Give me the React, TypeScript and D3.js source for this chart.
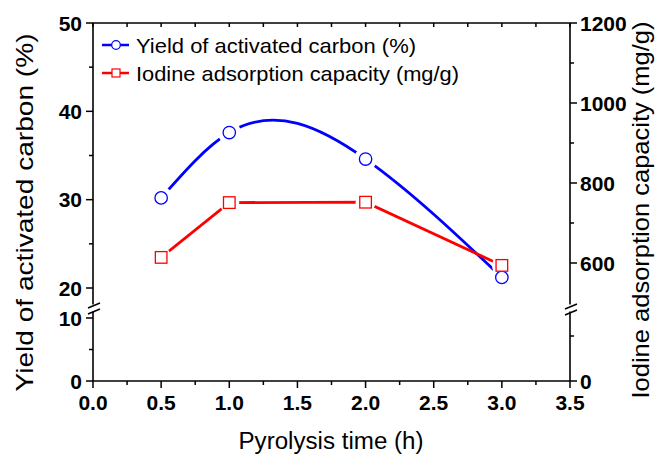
import React from 'react';
import * as d3 from 'd3';

const time = [0.5, 1.0, 2.0, 3.0];
const yieldPct = [30.2, 37.6, 34.6, 21.2];
const iodine = [614, 751, 752, 594];

const xTicks = [0, 0.5, 1, 1.5, 2, 2.5, 3, 3.5];
const leftUpperTicks = [20, 30, 40, 50];
const leftLowerTicks = [0, 10];
const rightUpperTicks = [600, 800, 1000, 1200];
const rightLowerTicks = [0];
const rightLowerMinor = [100];

const legendLabels = ['Yield of activated carbon (%)', 'Iodine adsorption capacity (mg/g)'];
const xTitle = 'Pyrolysis time (h)';
const yLeftTitle = 'Yield of activated carbon (%)';
const yRightTitle = 'Iodine adsorption capacity (mg/g)';

const FONT = "'Liberation Sans', Arial, Helvetica, sans-serif";
const BLUE = '#0000ff';
const RED = '#ff0000';

// natural cubic spline as a function of x (Origin-style "Spline" connection)
function curveNaturalX(context: any) {
  let xs: number[] = [];
  let ys: number[] = [];
  return {
    areaStart() {},
    areaEnd() {},
    lineStart() { xs = []; ys = []; },
    point(x: number, y: number) { xs.push(+x); ys.push(+y); },
    lineEnd() {
      const n = xs.length;
      if (!n) return;
      context.moveTo(xs[0], ys[0]);
      if (n === 2) { context.lineTo(xs[1], ys[1]); return; }
      const h: number[] = [];
      for (let i = 0; i < n - 1; i++) h[i] = xs[i + 1] - xs[i];
      const a: number[] = [], b: number[] = [], c: number[] = [], r: number[] = [];
      for (let i = 1; i < n - 1; i++) {
        a.push(h[i - 1]);
        b.push(2 * (h[i - 1] + h[i]));
        c.push(h[i]);
        r.push(6 * ((ys[i + 1] - ys[i]) / h[i] - (ys[i] - ys[i - 1]) / h[i - 1]));
      }
      const m = a.length;
      for (let i = 1; i < m; i++) {
        const w = a[i] / b[i - 1];
        b[i] -= w * c[i - 1];
        r[i] -= w * r[i - 1];
      }
      const sol = new Array(m).fill(0);
      sol[m - 1] = r[m - 1] / b[m - 1];
      for (let i = m - 2; i >= 0; i--) sol[i] = (r[i] - c[i] * sol[i + 1]) / b[i];
      const M = new Array(n).fill(0);
      for (let i = 0; i < m; i++) M[i + 1] = sol[i];
      for (let i = 0; i < n - 1; i++) {
        const hi = h[i];
        const s = (ys[i + 1] - ys[i]) / hi;
        const d0 = s - (hi * (2 * M[i] + M[i + 1])) / 6;
        const d1 = s + (hi * (M[i] + 2 * M[i + 1])) / 6;
        context.bezierCurveTo(
          xs[i] + hi / 3, ys[i] + (d0 * hi) / 3,
          xs[i + 1] - hi / 3, ys[i + 1] - (d1 * hi) / 3,
          xs[i + 1], ys[i + 1]
        );
      }
    },
  };
}

export default function App() {
  const W = 660, H = 456;
  const x = d3.scaleLinear().domain([0, 3.5]).range([93, 570]);
  const yLU = d3.scaleLinear().domain([20, 50]).range([288, 23]);
  const yLL = d3.scaleLinear().domain([0, 10]).range([381, 318]);
  const yRU = d3.scaleLinear().domain([600, 1200]).range([263, 23]);
  const yRL = d3.scaleLinear().domain([0, 140]).range([381, 318]);

  const x0 = x(0), x1 = x(3.5);
  const yTop = 23, yBot = 381;
  const breakTop = 304.5, breakBot = 311.5;

  const xMinor = d3.range(0, 3.5001, 0.25);
  const mids = (arr: number[]) => arr.slice(0, -1).map((v, i) => (v + arr[i + 1]) / 2);

  const blueLine = d3.line<number>().x((_, i) => x(time[i])).y(d => yLU(d)).curve(curveNaturalX as any);
  const redLine = d3.line<number>().x((_, i) => x(time[i])).y(d => yRU(d));

  const axisStroke = { stroke: '#000', strokeWidth: 1.6, fill: 'none' } as const;
  const tickFont = { fontFamily: FONT, fontWeight: 'bold' as const, fontSize: 21, fill: '#000' };

  const breakMarks = (ax: number, dy: number) => (
    <g>
      <line x1={ax - 5} y1={breakTop + 3.5 + dy} x2={ax + 7} y2={breakTop - 1.5 + dy} stroke="#000" strokeWidth={1.5} />
      <line x1={ax - 5} y1={breakBot + 2.5 + dy} x2={ax + 7} y2={breakBot - 2.5 + dy} stroke="#000" strokeWidth={1.5} />
    </g>
  );

  return (
    <svg width={W} height={H} style={{ position: 'absolute', left: 0, top: 0, display: 'block', background: '#fff' }}>
      <rect x={0} y={0} width={W} height={H} fill="#fff" />

      {/* frame */}
      <line x1={x0} y1={yTop} x2={x1} y2={yTop} {...axisStroke} />
      <line x1={x0} y1={yBot} x2={x1} y2={yBot} {...axisStroke} />
      <line x1={x0} y1={yTop} x2={x0} y2={breakTop} {...axisStroke} />
      <line x1={x0} y1={breakBot} x2={x0} y2={yBot} {...axisStroke} />
      <line x1={x1} y1={yTop} x2={x1} y2={breakTop} {...axisStroke} />
      <line x1={x1} y1={breakBot} x2={x1} y2={yBot} {...axisStroke} />
      {breakMarks(x0, 0)}
      {breakMarks(x1, 1)}

      {/* bottom ticks (outward) */}
      {xMinor.map(v => {
        const major = xTicks.some(t => Math.abs(t - v) < 1e-9);
        return <line key={'bx' + v} x1={x(v)} x2={x(v)} y1={yBot} y2={yBot + (major ? 7 : 4)} stroke="#000" strokeWidth={1.5} />;
      })}
      {/* top ticks (inward) */}
      {xMinor.map(v => (
        <line key={'tx' + v} x1={x(v)} x2={x(v)} y1={yTop} y2={yTop + 4} stroke="#000" strokeWidth={1.5} />
      ))}
      {xTicks.map(v => (
        <text key={'xl' + v} x={x(v)} y={410} textAnchor="middle" {...tickFont}>{d3.format('.1f')(v)}</text>
      ))}

      {/* left axis ticks */}
      {leftUpperTicks.map(v => <line key={'lu' + v} x1={x0 - 7} x2={x0} y1={yLU(v)} y2={yLU(v)} stroke="#000" strokeWidth={1.5} />)}
      {mids(leftUpperTicks).map(v => <line key={'lum' + v} x1={x0 - 4} x2={x0} y1={yLU(v)} y2={yLU(v)} stroke="#000" strokeWidth={1.5} />)}
      {leftLowerTicks.map(v => <line key={'ll' + v} x1={x0 - 7} x2={x0} y1={yLL(v)} y2={yLL(v)} stroke="#000" strokeWidth={1.5} />)}
      {mids(leftLowerTicks).map(v => <line key={'llm' + v} x1={x0 - 4} x2={x0} y1={yLL(v)} y2={yLL(v)} stroke="#000" strokeWidth={1.5} />)}
      {leftUpperTicks.map(v => <text key={'lut' + v} x={x0 - 11} y={yLU(v) + 7.5} textAnchor="end" {...tickFont}>{v}</text>)}
      {leftLowerTicks.map(v => <text key={'llt' + v} x={x0 - 11} y={yLL(v) + 7.5} textAnchor="end" {...tickFont}>{v}</text>)}

      {/* right axis ticks */}
      {rightUpperTicks.map(v => <line key={'ru' + v} x1={x1} x2={x1 + 7} y1={yRU(v)} y2={yRU(v)} stroke="#000" strokeWidth={1.5} />)}
      {mids(rightUpperTicks).map(v => <line key={'rum' + v} x1={x1} x2={x1 + 4} y1={yRU(v)} y2={yRU(v)} stroke="#000" strokeWidth={1.5} />)}
      {rightLowerTicks.map(v => <line key={'rl' + v} x1={x1} x2={x1 + 7} y1={yRL(v)} y2={yRL(v)} stroke="#000" strokeWidth={1.5} />)}
      {rightLowerMinor.map(v => <line key={'rlm' + v} x1={x1} x2={x1 + 4} y1={yRL(v)} y2={yRL(v)} stroke="#000" strokeWidth={1.5} />)}
      {rightUpperTicks.map(v => <text key={'rut' + v} x={x1 + 10} y={yRU(v) + 7.5} textAnchor="start" {...tickFont}>{v}</text>)}
      {rightLowerTicks.map(v => <text key={'rlt' + v} x={x1 + 10} y={yRL(v) + 7.5} textAnchor="start" {...tickFont}>{v}</text>)}

      {/* data lines */}
      <path d={blueLine(yieldPct) || ''} fill="none" stroke={BLUE} strokeWidth={2.8} />
      <path d={redLine(iodine) || ''} fill="none" stroke={RED} strokeWidth={2.8} />

      {/* gaps around markers */}
      {time.map((t, i) => <circle key={'hb' + i} cx={x(t)} cy={yLU(yieldPct[i])} r={11.5} fill="#fff" />)}
      {time.map((t, i) => <circle key={'hr' + i} cx={x(t)} cy={yRU(iodine[i])} r={10} fill="#fff" />)}

      {/* markers */}
      {time.map((t, i) => (
        <circle key={'mb' + i} cx={x(t)} cy={yLU(yieldPct[i])} r={6.2} fill="#fff" stroke={BLUE} strokeWidth={1.3} />
      ))}
      {time.map((t, i) => (
        <rect key={'mr' + i} x={x(t) - 5.8} y={yRU(iodine[i]) - 5.8} width={11.6} height={11.6} fill="#fff" stroke={RED} strokeWidth={1.3} />
      ))}

      {/* legend */}
      <line x1={102} x2={129} y1={45} y2={45} stroke={BLUE} strokeWidth={2.5} />
      <circle cx={116} cy={45} r={4.3} fill="#fff" stroke={BLUE} strokeWidth={1.2} />
      <text x={136} y={52.5} fontFamily={FONT} fontSize={21} textLength={280} lengthAdjust="spacingAndGlyphs" fill="#000">{legendLabels[0]}</text>
      <line x1={102} x2={129} y1={73} y2={73} stroke={RED} strokeWidth={2.5} />
      <rect x={112} y={69} width={8} height={8} fill="#fff" stroke={RED} strokeWidth={1.2} />
      <text x={136} y={80.5} fontFamily={FONT} fontSize={21} textLength={323} lengthAdjust="spacingAndGlyphs" fill="#000">{legendLabels[1]}</text>

      {/* axis titles */}
      <text x={331} y={449} textAnchor="middle" fontFamily={FONT} fontSize={23} textLength={185} lengthAdjust="spacingAndGlyphs" fill="#000">{xTitle}</text>
      <text transform={`translate(33,212.5) rotate(-90)`} textAnchor="middle" fontFamily={FONT} fontSize={24} textLength={358} lengthAdjust="spacingAndGlyphs" fill="#000">{yLeftTitle}</text>
      <text transform={`translate(649,210) rotate(-90)`} textAnchor="middle" fontFamily={FONT} fontSize={24} textLength={377} lengthAdjust="spacingAndGlyphs" fill="#000">{yRightTitle}</text>
    </svg>
  );
}
